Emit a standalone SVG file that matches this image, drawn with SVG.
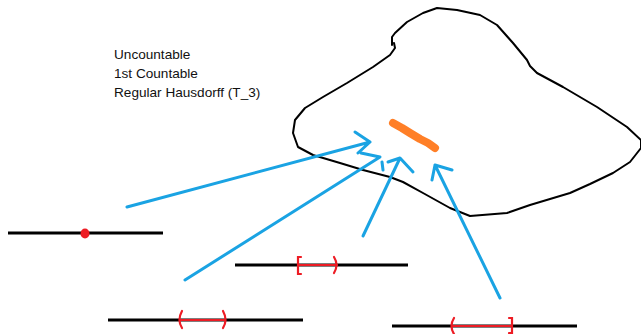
<svg xmlns="http://www.w3.org/2000/svg" width="641" height="334" viewBox="0 0 641 334">
  <style>
    .label { font-family: "Liberation Sans", Arial, sans-serif; font-size: 13.6px; fill: #111; }
    .outline { fill: none; stroke: #000; stroke-width: 2; stroke-linejoin: round; stroke-linecap: round; }
    .axis { stroke: #000; stroke-width: 3; }
    .interval { stroke: #ed1c24; stroke-width: 2.2; fill: none; stroke-linecap: round; }
    .arrow { stroke: #1aa3e3; stroke-width: 3; fill: none; stroke-linecap: round; stroke-linejoin: round; }
  </style>
  <rect width="641" height="334" fill="#fff"/>

  <g id="properties">
    <text class="label" x="114" y="59">Uncountable</text>
    <text class="label" x="114" y="78">1st Countable</text>
    <text class="label" x="114" y="97">Regular Hausdorff (T_3)</text>
  </g>

  <g id="space">
    <polyline class="outline" points="392,45 392,37 395,33 407,22 423,13 437,8 457,10 480,15 497,25 513,43 527,60 530,66 537,73 563,87 597,107 627,127 641,140 641,148 630,162 613,173 590,184 570,193 530,205 507,213 470,216 450,208 423,193 403,182 390,177 363,170 340,163 313,155 298,147 293,133 295,120 305,108 323,97 347,83 373,67 390,55 395,48 394,43"/>
    <path d="M393,123 L402,128 L410,133 L420,139 L428,143 L435,148" fill="none" stroke="#ff7f27" stroke-width="8" stroke-linecap="round" stroke-linejoin="round"/>
  </g>

  <g id="line-point">
    <line class="axis" x1="8" y1="233" x2="163" y2="233"/>
    <ellipse cx="85" cy="233.5" rx="4.5" ry="5" fill="#ed1c24"/>
  </g>

  <g id="line-closed-open">
    <line class="axis" x1="235" y1="265" x2="408" y2="265"/>
    <line class="interval" x1="298" y1="265" x2="337" y2="265"/>
    <path class="interval" d="M301,257 L298,257 L298,274 L301,274"/>
    <path class="interval" d="M334,257 Q339,265 334,273"/>
  </g>

  <g id="line-open">
    <line class="axis" x1="108" y1="320" x2="303" y2="320"/>
    <line class="interval" x1="180" y1="320" x2="225" y2="320"/>
    <path class="interval" d="M182,311 Q177,320 182,328"/>
    <path class="interval" d="M223,311 Q228,320 223,328"/>
  </g>

  <g id="line-open-closed">
    <line class="axis" x1="392" y1="326" x2="577" y2="326"/>
    <line class="interval" x1="452" y1="326" x2="512" y2="326"/>
    <path class="interval" d="M454,318 Q449,326 454,334"/>
    <path class="interval" d="M509,318 L512,318 L512,333 L509,333"/>
  </g>

  <g id="connectors">
    <path class="arrow" d="M127,207 L370,142 M355,132 L370,142 L358,153"/>
    <path class="arrow" d="M185,280 L380,157 L361,153 M382,162 L383,170"/>
    <path class="arrow" d="M363,236 L400,158 M388,162 L400,158 L413,172"/>
    <path class="arrow" d="M500,298 L435,165 M432,180 L435,165 L452,170"/>
  </g>
</svg>
